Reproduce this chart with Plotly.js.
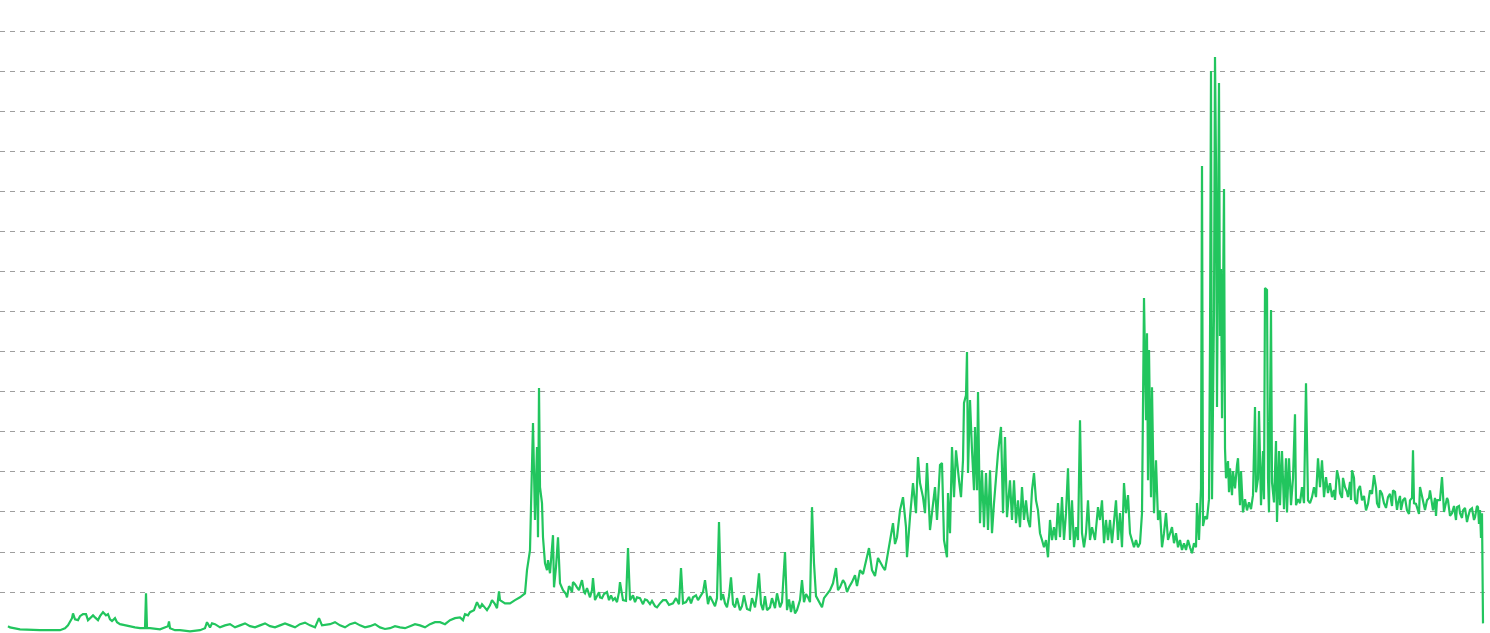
<!DOCTYPE html>
<html>
<head>
<meta charset="utf-8">
<script src="https://cdn.plot.ly/plotly-3.0.1.min.js"></script>
<style>html,body{margin:0;padding:0;background:#fff;}#chart{width:1490px;height:633px;}</style>
</head>
<body>
<div id="chart"></div>
<script>
// Day index of each main reading
const days = [
8,10,20,40,60,65,68,72,73,75,80,86,90,95,100,103,106,110,115,117,120,125,130,135,140,145,146,147,150,160,168,169,170,175,180,190,200,205,207,210,215,220,225,230,240,250,260,270,280,290,300,310,319,322,330,340,350,360,370,380,390,400,410,420,430,440,450,460,465,470,477,480,485,490,495,499,500,505,510,515,520,525,527,530,532,533,535,537,538,539,540,542,543,545,547,548,550,552,553,554,556,558,560,563,567,570,573,577,582,585,590,593,595,600,607,613,620,623,628,630,637,647,657,663,673,681,683,693,698,700,705,712,719,721,725,731,735,740,745,750,759,763,770,777,780,785,787,795,800,802,808,812,814,818,822,830,833,836,840,845,849,855,860,866,869,872,878,883,888,890,893,897,900,903,906,907,910,913,916,918,920,923,925,927,930,933,935,937,940,942,944,947,948,950,952,954,956,959,961,963,964,966,967,968,970,972,974,975,977,978,980,982,984,986,988,990,992,994,996,998,1001,1003,1005,1007,1010,1012,1014,1016,1018,1020,1022,1024,1026,1028,1030,1032,1034,1036,1038,1040,1042,1044,1046,1048,1050,1052,1054,1056,1058,1060,1062,1064,1066,1068,1070,1072,1074,1076,1078,1080,1082,1084,1086,1088,1090,1092,1095,1098,1100,1102,1104,1106,1108,1110,1112,1114,1116,1118,1120,1122,1124,1126,1128,1130,1132,1134,1136,1138,1140,1142,1144,1146,1147,1148,1149,1151,1152,1154,1156,1158,1160,1162,1164,1166,1168,1170,1172,1174,1176,1178,1180,1182,1184,1186,1188,1190,1192,1194,1196,1197,1199,1201,1202,1203,1205,1207,1209,1210,1211,1212,1213,1214,1215,1216,1217,1218,1219,1220,1221,1222,1223,1224,1225,1226,1228,1229,1230,1232,1233,1235,1237,1238,1240,1241,1243,1245,1247,1249,1251,1253,1255,1256,1258,1259,1261,1263,1264,1265,1267,1268,1269,1271,1272,1274,1276,1277,1279,1280,1282,1284,1286,1287,1289,1291,1293,1295,1296,1298,1300,1302,1304,1306,1308,1310,1312,1314,1316,1318,1320,1322,1324,1326,1328,1330,1332,1337,1340,1345,1348,1352,1355,1358,1362,1366,1370,1374,1377,1380,1384,1388,1393,1398,1403,1407,1410,1413,1414,1418,1420,1423,1427,1430,1433,1437,1442,1445,1448,1452,1457,1460,1463,1468,1472,1475,1478,1481,1482,1483
];
// Main reading for each day
const values = [
0.15,0.12,0.07,0.05,0.05,0.10,0.17,0.35,0.47,0.32,0.40,0.45,0.35,0.37,0.40,0.50,0.42,0.32,0.35,0.25,0.20,0.17,0.15,0.12,0.10,0.10,0.97,0.10,0.10,0.07,0.15,0.27,0.10,0.05,0.05,0.02,0.05,0.10,0.25,0.12,0.20,0.12,0.17,0.20,0.17,0.15,0.17,0.15,0.17,0.17,0.20,0.17,0.35,0.17,0.20,0.17,0.20,0.17,0.15,0.12,0.10,0.12,0.15,0.17,0.20,0.25,0.30,0.37,0.45,0.50,0.75,0.60,0.62,0.67,0.70,1.02,0.80,0.72,0.72,0.80,0.87,0.97,1.55,2.05,3.97,5.22,2.80,4.62,2.37,6.09,3.62,3.22,2.37,1.72,1.55,1.80,1.47,2.05,2.42,1.12,1.62,2.37,1.22,1.05,0.87,1.12,1.25,1.12,1.30,0.97,0.87,1.35,0.80,0.87,1.00,0.80,1.25,0.80,2.10,0.80,0.87,0.80,0.62,0.80,0.72,1.60,0.72,0.87,0.80,0.87,1.30,0.80,2.75,0.80,0.72,1.37,0.62,0.55,0.80,0.55,1.47,0.55,0.62,0.97,0.62,2.00,0.55,0.47,0.80,1.30,0.87,3.12,1.72,0.80,0.62,1.05,1.22,1.60,1.12,1.22,1.12,1.42,1.55,1.80,2.10,1.55,1.85,1.62,1.97,2.30,2.72,2.37,3.04,3.37,2.62,1.87,2.87,3.72,2.97,4.37,3.72,3.37,2.97,4.22,2.55,3.12,3.62,2.80,4.17,4.22,2.30,1.87,3.47,2.47,4.62,3.37,4.54,3.79,3.37,4.29,5.72,5.91,6.99,3.97,5.79,4.54,3.54,5.12,3.54,5.99,2.72,4.04,2.62,3.97,2.55,4.04,2.47,3.22,3.97,4.47,5.12,2.97,4.87,2.87,3.79,2.80,3.79,2.72,3.29,2.62,3.62,2.80,3.29,2.80,2.62,3.54,3.97,3.29,3.04,2.47,2.30,2.12,2.30,1.87,2.80,2.30,2.62,2.30,3.22,2.37,3.37,2.30,2.97,4.09,2.30,3.29,2.12,2.62,2.30,5.29,2.47,2.12,2.47,3.29,2.30,2.62,2.30,3.12,2.80,3.29,2.22,2.80,2.30,2.80,2.22,2.72,3.29,2.30,2.97,2.12,3.72,2.97,3.42,2.47,2.30,2.12,2.30,2.12,2.22,2.97,8.34,5.29,7.46,3.79,7.04,3.37,6.11,2.97,4.29,2.80,3.04,2.12,2.47,2.97,2.30,2.47,2.62,2.22,2.47,2.12,2.30,2.05,2.22,2.05,2.30,2.12,1.97,2.22,2.12,3.22,2.30,3.59,11.63,2.65,2.89,2.82,3.32,7.21,14.00,3.32,5.52,8.04,14.35,11.68,5.62,9.73,13.70,7.39,9.06,5.34,7.71,11.06,4.59,3.84,4.27,3.49,4.09,3.42,4.02,3.59,4.17,4.34,3.17,4.02,2.99,3.32,3.04,3.24,3.07,3.42,5.62,3.49,3.84,5.52,3.17,4.52,3.32,8.59,8.54,3.84,2.99,8.04,3.74,3.24,4.77,2.75,4.52,3.17,4.52,3.07,4.34,2.99,4.34,3.17,3.84,5.44,3.17,3.32,3.22,3.62,3.22,6.21,3.29,3.22,3.37,3.62,3.37,4.34,3.62,4.29,3.37,3.87,3.47,3.72,3.37,4.04,3.47,3.62,3.37,4.04,3.29,3.54,3.29,3.04,3.54,3.92,3.22,3.54,3.22,3.37,3.54,3.22,3.29,3.04,3.29,4.54,3.22,3.04,3.62,3.22,3.29,3.54,3.04,3.29,3.87,3.12,3.29,2.97,3.12,2.97,3.04,2.87,3.09,2.87,3.12,2.35,2.97,0.22
];
// Additional in-between readings (day-to-day fluctuation)
const extraDays = [
78,83,88,93,98,108,112,212,235,245,255,265,275,285,295,305,315,335,345,355,365,375,385,395,405,415,425,435,445,455,463,468,474,482,487,492,497,
566,569,572,575,579,581,584,587,589,592,597,599,602,604,609,611,615,617,619,622,626,633,635,640,643,645,650,652,655,660,666,669,676,679,686,689,691,696,703,708,710,715,717,723,727,729,733,737,742,744,747,752,755,757,761,765,767,772,775,782,789,791,793,797,804,806,810,816,820,824,827,838,843,847,852,857,863,875,880,885,895,
1334,1335,1339,1342,1343,1347,1350,1351,1354,1357,1360,1364,1368,1372,1376,1379,1382,1386,1390,1392,1395,1397,1400,1401,1405,1409,1412,1416,1419,1422,1425,1429,1432,1435,1436,1440,1444,1447,1450,1454,1456,1459,1462,1465,1467,1470,1474,1477,1479,1480
];
const extraValues = [
0.30,0.45,0.30,0.42,0.30,0.45,0.28,0.22,0.12,0.22,0.12,0.22,0.12,0.22,0.12,0.24,0.12,0.25,0.12,0.24,0.12,0.20,0.08,0.15,0.10,0.20,0.12,0.25,0.20,0.35,0.30,0.42,0.55,0.70,0.55,0.80,0.60,
0.95,1.15,1.00,1.20,1.05,1.22,1.00,1.10,0.95,1.05,0.92,1.00,0.85,0.95,0.80,0.92,0.85,0.75,1.00,0.90,0.78,0.92,0.75,0.85,0.70,0.82,0.70,0.78,0.65,0.72,0.80,0.68,0.85,0.70,0.75,0.88,0.72,0.92,1.00,0.70,0.90,0.65,0.85,0.95,0.62,0.90,0.70,0.85,0.65,0.92,0.58,0.85,0.62,0.95,0.70,0.90,0.55,0.85,0.60,0.75,0.82,0.50,0.78,0.55,0.75,0.95,0.75,0.90,0.70,0.85,0.95,1.05,1.30,1.00,1.25,1.15,1.45,1.40,1.75,1.55,2.20,
3.55,3.30,3.80,3.35,3.85,3.50,3.75,3.30,3.85,3.20,3.65,3.40,3.20,3.45,3.60,3.10,3.45,3.10,3.45,3.15,3.50,3.05,3.40,3.05,3.35,2.95,3.35,3.20,2.95,3.40,3.05,3.35,3.10,3.35,2.90,3.30,3.00,3.35,2.90,3.15,2.80,3.15,2.85,3.10,2.75,3.05,2.80,3.15,2.70,3.05
];
const gridTicks = [1,2,3,4,5,6,7,8,9,10,11,12,13,14,15];

// merge the two reading lists in day order
const pts = days.map((d, i) => [d, values[i]]).concat(extraDays.map((d, i) => [d, extraValues[i]]));
pts.sort((a, b) => a[0] - b[0]);

Plotly.newPlot('chart', [{
  x: pts.map(p => p[0]), y: pts.map(p => p[1]), type: 'scatter', mode: 'lines',
  line: {color: '#22c55e', width: 2.2}, hoverinfo: 'skip'
}], {
  width: 1490, height: 633,
  margin: {l: 0, r: 4, t: 27, b: 0},
  paper_bgcolor: '#ffffff', plot_bgcolor: '#ffffff',
  showlegend: false,
  xaxis: {range: [0, 1486], showgrid: false, zeroline: false, showline: false, showticklabels: false, ticks: ''},
  yaxis: {range: [-0.02, 15.1], tickvals: gridTicks, showgrid: true, gridcolor: '#9e9e9e', gridwidth: 1,
          griddash: '5px,5px', zeroline: false, showline: false, showticklabels: false, ticks: ''}
}, {displayModeBar: false, staticPlot: true});
</script>
</body>
</html>
